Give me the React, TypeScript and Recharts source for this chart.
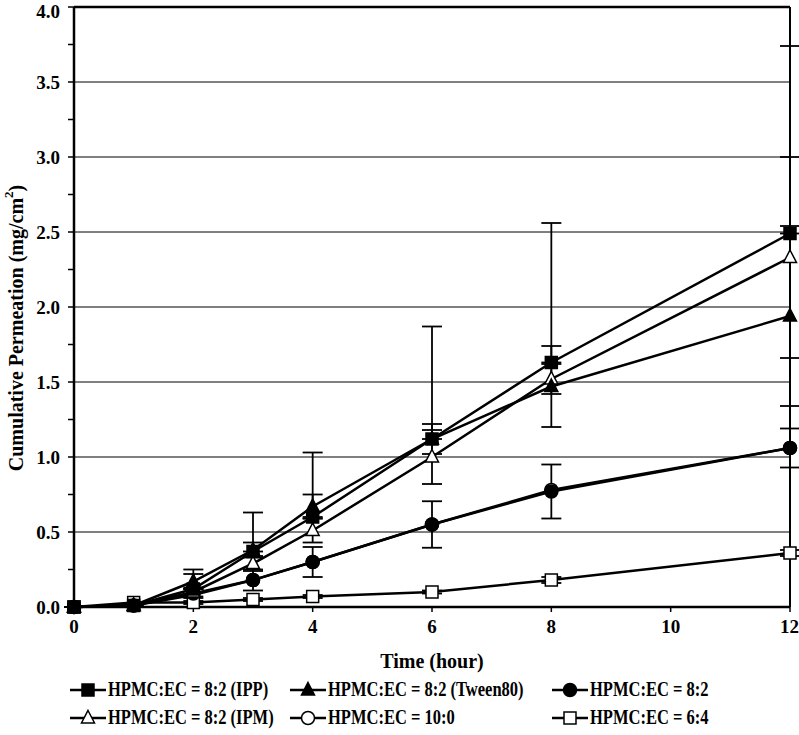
import {
  CartesianGrid,
  ErrorBar,
  Line,
  LineChart,
  ReferenceLine,
  XAxis,
  YAxis,
} from "recharts";

const hours = [0, 1, 2, 3, 4, 6, 8, 12];

const ippValues = [0, 0.01, 0.12, 0.37, 0.6, 1.12, 1.63, 2.49];
const ippPlusErr = [0, 0, 0.13, 0.26, 0.43, 0.75, 0.93, 1.25];

const tweenValues = [0, 0.01, 0.17, 0.38, 0.67, 1.12, 1.47, 1.94];
const tweenErr = [0, 0, 0.05, 0.05, 0.08, 0.1, 0.27, 0.6];

const ipmValues = [0, 0.01, 0.1, 0.29, 0.51, 1.0, 1.52, 2.33];
const ipmErr = [0, 0, 0.03, 0.05, 0.08, 0.18, 0.1, 0.67];

const hec82Values = [0, 0.01, 0.09, 0.18, 0.3, 0.55, 0.77, 1.06];
const hec82Err = [0, 0, 0.03, 0.07, 0.1, 0.155, 0.18, 0.13];

const hec100Values = [0, 0.01, 0.08, 0.18, 0.3, 0.55, 0.78, 1.06];

const hec64Values = [0, 0.03, 0.03, 0.05, 0.07, 0.1, 0.18, 0.36];
const hec64Err = [0, 0, 0.01, 0.01, 0.01, 0.01, 0.02, 0.02];

const xTicks = [0, 2, 4, 6, 8, 10, 12];
const yTicks = [0, 0.25, 0.5, 0.75, 1, 1.25, 1.5, 1.75, 2, 2.25, 2.5, 2.75, 3, 3.25, 3.5, 3.75, 4];
const gridValues = [0.5, 1, 1.5, 2, 2.5, 3, 3.5];

const data = hours.map((t, i) => ({
  t,
  ipp: ippValues[i],
  ippErr: [0, ippPlusErr[i]],
  tween: tweenValues[i],
  tweenErr: tweenErr[i],
  ipm: ipmValues[i],
  ipmErr: ipmErr[i],
  hec82: hec82Values[i],
  hec82Err: hec82Err[i],
  hec100: hec100Values[i],
  hec64: hec64Values[i],
  hec64Err: hec64Err[i],
}));

type Shape = "square" | "triangle" | "circle";

const legendItems: { name: string; shape: Shape; filled: boolean; col: number; row: number }[] = [
  { name: "HPMC:EC = 8:2 (IPP)", shape: "square", filled: true, col: 0, row: 0 },
  { name: "HPMC:EC = 8:2 (Tween80)", shape: "triangle", filled: true, col: 1, row: 0 },
  { name: "HPMC:EC = 8:2", shape: "circle", filled: true, col: 2, row: 0 },
  { name: "HPMC:EC = 8:2 (IPM)", shape: "triangle", filled: false, col: 0, row: 1 },
  { name: "HPMC:EC = 10:0", shape: "circle", filled: false, col: 1, row: 1 },
  { name: "HPMC:EC = 6:4", shape: "square", filled: false, col: 2, row: 1 },
];

const FONT = '"Liberation Serif", "Times New Roman", serif';
const colX = [70, 290, 552];
const rowY = [690, 718];

function Marker({ cx, cy, shape, filled }: { cx: number; cy: number; shape: Shape; filled: boolean }) {
  const fill = filled ? "#000" : "#fff";
  if (shape === "square") {
    return <rect x={cx - 6} y={cy - 6} width={12} height={12} fill={fill} stroke="#000" strokeWidth={1.5} />;
  }
  if (shape === "triangle") {
    return (
      <polygon
        points={`${cx},${cy - 7.5} ${cx + 6.5},${cy + 5} ${cx - 6.5},${cy + 5}`}
        fill={fill}
        stroke="#000"
        strokeWidth={1.5}
      />
    );
  }
  return <circle cx={cx} cy={cy} r={6.5} fill={fill} stroke="#000" strokeWidth={1.5} />;
}

function makeDot(shape: Shape, filled: boolean) {
  return (props: any) => {
    const { cx, cy, index } = props;
    if (cx == null || cy == null) return <g key={index} />;
    return (
      <g key={index}>
        <Marker cx={cx} cy={cy} shape={shape} filled={filled} />
      </g>
    );
  };
}

const tickStyle = { fill: "#000", fontSize: 19, fontWeight: 700, fontFamily: FONT };

// y tick text; keeps the top label inside the picture
function YTick(props: any) {
  const { x, y, payload } = props;
  const v = payload.value as number;
  if (v % 0.5 !== 0) return <g />;
  return (
    <text
      x={x}
      y={Math.max(y, 11)}
      dy="0.355em"
      textAnchor="end"
      fontFamily={FONT}
      fontWeight={700}
      fontSize={19}
      fill="#000"
    >
      {v.toFixed(1)}
    </text>
  );
}

function YTitle() {
  const cx = 16;
  const cy = 328;
  return (
    <text
      x={cx}
      y={cy}
      transform={`rotate(-90 ${cx} ${cy})`}
      textAnchor="middle"
      dominantBaseline="central"
      fontFamily={FONT}
      fontWeight={700}
      fontSize={20}
      fill="#000"
    >
      Cumulative Permeation (mg/cm
      <tspan dy={-8} fontSize={13}>
        2
      </tspan>
      <tspan dy={8}>)</tspan>
    </text>
  );
}

function XTitle(props: any) {
  const { viewBox } = props;
  return (
    <text
      x={viewBox.x + viewBox.width / 2}
      y={viewBox.y + 61}
      textAnchor="middle"
      fontFamily={FONT}
      fontWeight={700}
      fontSize={20}
      fill="#000"
    >
      Time (hour)
    </text>
  );
}

function LegendBox() {
  return (
    <>
      {legendItems.map((item) => (
        <div
          key={item.name}
          style={{
            position: "absolute",
            left: colX[item.col],
            top: rowY[item.row] - 12,
            height: 24,
            display: "flex",
            alignItems: "center",
            fontFamily: FONT,
            fontWeight: 700,
            fontSize: 16.5,
            color: "#000",
            whiteSpace: "nowrap",
          }}
        >
          <svg width={36} height={24} style={{ marginRight: 2 }}>
            <line x1={0} y1={12} x2={36} y2={12} stroke="#000" strokeWidth={2.5} />
            <Marker cx={18} cy={12} shape={item.shape} filled={item.filled} />
          </svg>
          <span style={{ display: "inline-block", transform: "scaleY(1.25)" }}>{item.name}</span>
        </div>
      ))}
    </>
  );
}

export default function App() {
  return (
    <div style={{ position: "absolute", left: 0, top: 0, width: 799, height: 735, background: "#fff" }}>
      <LineChart width={799} height={680} data={data} margin={{ top: 7, right: 9, left: 0, bottom: 0 }}>
        <CartesianGrid vertical={false} horizontalValues={gridValues} stroke="#000" strokeWidth={1} />
        <XAxis
          dataKey="t"
          type="number"
          domain={[0, 12]}
          ticks={xTicks}
          height={73}
          tick={tickStyle}
          tickSize={5}
          tickMargin={8}
          axisLine={{ stroke: "#000", strokeWidth: 2.5 }}
          tickLine={{ stroke: "#000", strokeWidth: 1.5 }}
          label={<XTitle />}
        />
        <YAxis
          type="number"
          domain={[0, 4]}
          ticks={yTicks}
          interval={0}
          width={74}
          tick={<YTick />}
          tickSize={6}
          tickMargin={8}
          axisLine={{ stroke: "#000", strokeWidth: 2.5 }}
          tickLine={{ stroke: "#000", strokeWidth: 1.5 }}
          label={<YTitle />}
        />
        <ReferenceLine y={4} stroke="#000" strokeWidth={2.5} />
        <ReferenceLine x={12} stroke="#000" strokeWidth={2} />
        <Line
          dataKey="hec100"
          stroke="#000"
          strokeWidth={2.5}
          dot={makeDot("circle", false)}
          isAnimationActive={false}
        />
        <Line
          dataKey="hec64"
          stroke="#000"
          strokeWidth={2.5}
          dot={makeDot("square", false)}
          isAnimationActive={false}
        >
          <ErrorBar dataKey="hec64Err" width={10} stroke="#000" strokeWidth={1.8} direction="y" />
        </Line>
        <Line
          dataKey="hec82"
          stroke="#000"
          strokeWidth={2.5}
          dot={makeDot("circle", true)}
          isAnimationActive={false}
        >
          <ErrorBar dataKey="hec82Err" width={10} stroke="#000" strokeWidth={1.8} direction="y" />
        </Line>
        <Line
          dataKey="ipm"
          stroke="#000"
          strokeWidth={2.5}
          dot={makeDot("triangle", false)}
          isAnimationActive={false}
        >
          <ErrorBar dataKey="ipmErr" width={10} stroke="#000" strokeWidth={1.8} direction="y" />
        </Line>
        <Line
          dataKey="tween"
          stroke="#000"
          strokeWidth={2.5}
          dot={makeDot("triangle", true)}
          isAnimationActive={false}
        >
          <ErrorBar dataKey="tweenErr" width={10} stroke="#000" strokeWidth={1.8} direction="y" />
        </Line>
        <Line
          dataKey="ipp"
          stroke="#000"
          strokeWidth={2.5}
          dot={makeDot("square", true)}
          isAnimationActive={false}
        >
          <ErrorBar dataKey="ippErr" width={10} stroke="#000" strokeWidth={1.8} direction="y" />
        </Line>
      </LineChart>
      <LegendBox />
    </div>
  );
}
